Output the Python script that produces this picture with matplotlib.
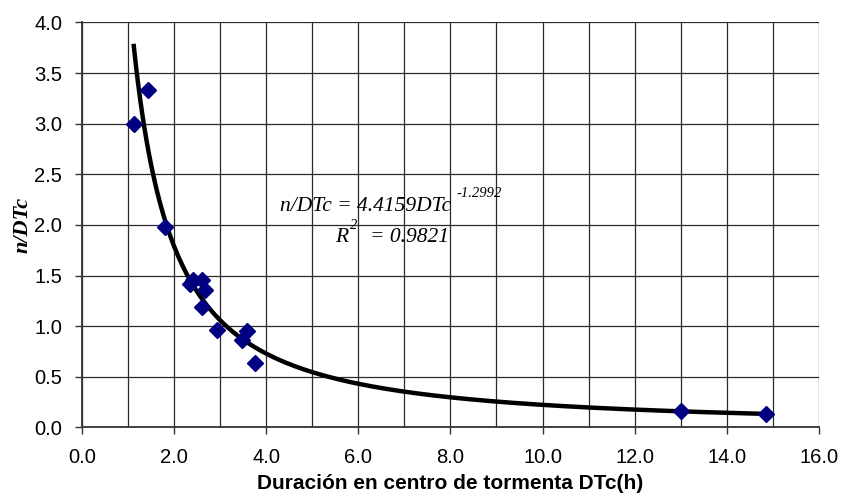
import numpy as np
import matplotlib
matplotlib.use('Agg')
import matplotlib.pyplot as plt

# measured points (duration DTc in h, n/DTc)
dtc = [1.13, 1.44, 1.81, 2.41, 2.60, 2.34, 2.68, 2.60, 2.93, 3.58, 3.47, 3.76, 13.0, 14.84]
n_dtc = [3.00, 3.33, 1.98, 1.46, 1.46, 1.42, 1.36, 1.19, 0.96, 0.955, 0.86, 0.64, 0.164, 0.131]

# power trend line  y = a * x^b
coef_a = 4.4159
coef_b = -1.2992
r2 = 0.9821

x_ticks = [0, 2, 4, 6, 8, 10, 12, 14, 16]
y_ticks = [0, 0.5, 1.0, 1.5, 2.0, 2.5, 3.0, 3.5, 4.0]

W, H = 842, 494
fig = plt.figure(figsize=(W / 100, H / 100), dpi=100)
ax = fig.add_axes([81.7 / W, 1 - 427.3 / H, (819 - 81.7) / W, (427.3 - 22.5) / H])

sans = 'Liberation Sans'
serif = 'Liberation Serif'

ax.set_xlim(0, 16)
ax.set_ylim(0, 4)
ax.set_xticks(x_ticks)
ax.set_yticks(y_ticks)
ax.set_xticks(np.arange(0, 17, 1), minor=True)
ax.set_xticklabels(['%.1f' % v for v in x_ticks], fontfamily=sans, fontsize=14.5)
ax.set_yticklabels(['%.1f' % v for v in y_ticks], fontfamily=sans, fontsize=14.5)
ax.tick_params(axis='both', which='major', direction='out', length=5, width=1, color='#333333')
ax.tick_params(axis='x', which='major', pad=10)
ax.tick_params(axis='y', which='major', pad=9)
ax.tick_params(axis='x', which='minor', length=0)

ax.grid(True, which='major', axis='y', color='#2a2a2a', lw=0.9)
ax.grid(True, which='both', axis='x', color='#2a2a2a', lw=0.9)
ax.set_axisbelow(True)
for s in ['top', 'right']:
    ax.spines[s].set_visible(False)
for s in ['left', 'bottom']:
    ax.spines[s].set_color('#333333')
    ax.spines[s].set_linewidth(1.3)

# trend line
xs = np.linspace(min(dtc), max(dtc), 300)
ax.plot(xs, coef_a * xs ** coef_b, color='black', lw=3.2, zorder=3, clip_on=False)
ax.plot(dtc, n_dtc, 'D', color='#000080', ms=8, mec='#000080', zorder=4, clip_on=False)

ax.set_xlabel('Duración en centro de tormenta DTc(h)', fontfamily=sans, fontsize=15,
              fontweight='bold', labelpad=5)
ax.set_ylabel('n/DTc', fontfamily=serif, fontsize=16, fontweight='bold', style='italic',
              labelpad=1)

# equation label
eq = fig.text(280 / W, 1 - 211 / H, 'n/DTc = 4.4159DTc', family=serif, style='italic',
              fontsize=15.5, va='baseline', ha='left')
r_txt = fig.text(335 / W, 1 - 242 / H, 'R', family=serif, style='italic',
                 fontsize=15.5, va='baseline', ha='left')
fig.canvas.draw()
rend = fig.canvas.get_renderer()
bb = eq.get_window_extent(rend)
fig.text((bb.x1 + 5) / W, 1 - 197 / H, '%.4f' % coef_b, family=serif, style='italic',
         fontsize=10.5, va='baseline', ha='left')
bb = r_txt.get_window_extent(rend)
fig.text((bb.x1 + 2) / W, 1 - 229 / H, '2', family=serif, style='italic',
         fontsize=10.5, va='baseline', ha='left')
fig.text((bb.x1 + 22) / W, 1 - 242 / H, '= %.4f' % r2, family=serif, style='italic',
         fontsize=15.5, va='baseline', ha='left')

fig.savefig('out.png', dpi=100)
